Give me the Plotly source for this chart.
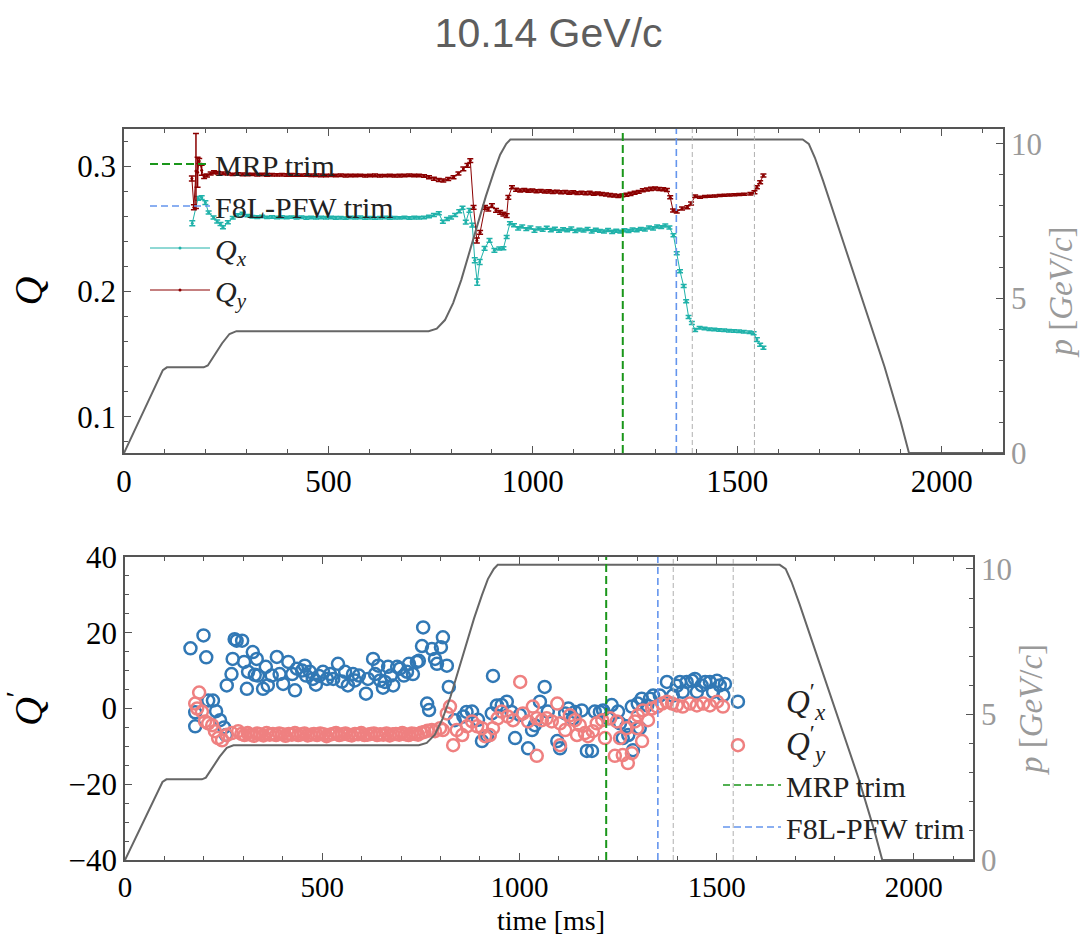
import plotly.graph_objects as go

TITLE = "10.14 GeV/c"
X_TITLE = "time [ms]"

# ---------------- momentum ramp (right axes) ----------------
mom_t = [0, 40, 80, 95, 105, 195, 205, 220, 240, 258, 275, 745, 765, 785, 805, 825, 845,
         865, 885, 905, 920, 935, 945, 1660, 1675, 1690, 1710, 1760, 1810, 1860, 1900, 1920, 2150]
mom_p = [0, 1.15, 2.3, 2.68, 2.77, 2.77, 2.83, 3.15, 3.55, 3.85, 3.94, 3.94, 4.02, 4.3, 4.85, 5.6, 6.5,
         7.4, 8.3, 9.1, 9.65, 10.0, 10.14, 10.14, 10.0, 9.55, 8.8, 6.8, 4.8, 2.8, 1.0, 0.0, 0.0]

# ---------------- trim / marker times ----------------
mrp_trim_t = 1220
f8l_trim_t = 1351
gray_marks_t = [1390, 1542]

# ---------------- tunes Q_x ----------------
qx_t = [167, 181, 190, 199, 207, 219, 228, 236, 242, 254,
        266, 278, 290, 302, 314, 326, 338, 350, 362, 374,
        386, 398, 410, 422, 434, 446, 458, 470, 482, 494,
        506, 518, 530, 542, 554, 566, 578, 590, 602, 614,
        626, 638, 650, 662, 674, 686, 698, 710, 722, 734,
        746, 758, 770, 780, 790, 800, 810, 820, 828, 836,
        845, 852, 858, 864, 870, 882, 894, 906, 918, 928,
        936, 944, 954, 964, 974, 984, 994, 1004, 1014, 1024,
        1034, 1044, 1054, 1064, 1074, 1084, 1094, 1104, 1114, 1124,
        1134, 1144, 1154, 1164, 1174, 1184, 1194, 1204, 1214, 1224,
        1234, 1244, 1254, 1264, 1274, 1284, 1294, 1304, 1314, 1324,
        1334, 1344, 1352, 1360, 1369, 1375, 1381, 1389, 1397, 1408,
        1420, 1432, 1444, 1456, 1468, 1480, 1492, 1504, 1516, 1530,
        1540, 1548, 1556, 1564]
qx_val = [.2546, .2745, .2752, .2712, .2632, .2592, .2560, .2540, .2514, .2555,
          .2590, .2612, .2625, .2608, .2598, .2595, .2600, .2594, .2597, .2593,
          .2596, .2592, .2595, .2591, .2594, .2590, .2593, .2589, .2592, .2590,
          .2593, .2589, .2591, .2588, .2592, .2590, .2593, .2589, .2591, .2588,
          .2590, .2593, .2589, .2591, .2590, .2592, .2589, .2591, .2590, .2592,
          .2600, .2612, .2626, .2558, .2580, .2592, .2612, .2642, .2670, .2556,
          .2650, .2531, .2250, .2076, .2236, .2346, .2410, .2330, .2345, .2346,
          .2436, .2546, .2530, .2506, .2520, .2500, .2512, .2488, .2505, .2494,
          .2510, .2491, .2502, .2486, .2498, .2490, .2503, .2485, .2495, .2488,
          .2500, .2482, .2494, .2486, .2480, .2492, .2478, .2486, .2480, .2490,
          .2484, .2496, .2490, .2502, .2496, .2512, .2505, .2520, .2515, .2528,
          .2512, .2450, .2307, .2163, .2044, .1924, .1797, .1750, .1693, .1712,
          .1705, .1700, .1698, .1694, .1692, .1688, .1686, .1684, .1680, .1676,
          .1668, .1616, .1576, .1552]
qx_err = [.0020, .0015, .0015, .0015, .0012, .0012, .0012, .0012, .0012, .0012,
          .0010, .0011, .0010, .0009, .0010, .0011, .0010, .0009, .0010, .0010,
          .0011, .0010, .0009, .0010, .0010, .0011, .0010, .0009, .0010, .0010,
          .0010, .0011, .0010, .0009, .0010, .0010, .0011, .0010, .0010, .0009,
          .0010, .0010, .0011, .0010, .0009, .0010, .0010, .0011, .0010, .0010,
          .0010, .0012, .0012, .0012, .0012, .0012, .0012, .0012, .0012, .0015,
          .0015, .0015, .0020, .0025, .0020, .0015, .0015, .0015, .0012, .0012,
          .0012, .0012, .0012, .0013, .0012, .0011, .0012, .0013, .0012, .0011,
          .0012, .0013, .0012, .0011, .0012, .0012, .0013, .0012, .0011, .0012,
          .0012, .0013, .0012, .0011, .0012, .0012, .0013, .0012, .0011, .0012,
          .0012, .0013, .0012, .0011, .0012, .0012, .0013, .0012, .0011, .0012,
          .0012, .0012, .0012, .0012, .0012, .0012, .0012, .0012, .0012, .0010,
          .0010, .0010, .0010, .0010, .0010, .0010, .0010, .0010, .0010, .0010,
          .0012, .0015, .0012, .0012]

# ---------------- tunes Q_y ----------------
qy_t = [166, 171, 176, 180, 184, 190, 196, 203, 212, 220,
        230, 242, 254, 266, 278, 290, 302, 314, 326, 338,
        350, 362, 374, 386, 398, 410, 422, 434, 446, 458,
        470, 482, 494, 506, 518, 530, 542, 554, 566, 578,
        590, 602, 614, 626, 638, 650, 662, 674, 686, 698,
        710, 722, 734, 746, 758, 770, 781, 793, 806, 818,
        830, 840, 847, 855, 863, 871, 883, 891, 900, 910,
        920, 928, 936, 940, 949, 959, 969, 979, 989, 999,
        1009, 1019, 1029, 1039, 1049, 1059, 1069, 1079, 1089, 1099,
        1109, 1119, 1129, 1139, 1149, 1159, 1169, 1179, 1189, 1199,
        1209, 1219, 1229, 1239, 1249, 1259, 1269, 1279, 1289, 1299,
        1309, 1319, 1328, 1336, 1343, 1352, 1365, 1378, 1387, 1397,
        1409, 1421, 1433, 1445, 1457, 1469, 1481, 1493, 1505, 1517,
        1532, 1542, 1548, 1556, 1564]
qy_val = [.2905, .2674, .2965, .2955, .3045, .2970, .2920, .2928, .2945, .2955,
          .2950, .2945, .2942, .2938, .2940, .2937, .2936, .2937, .2935, .2936,
          .2934, .2935, .2933, .2934, .2932, .2933, .2932, .2931, .2932, .2930,
          .2931, .2930, .2929, .2930, .2929, .2930, .2928, .2929, .2928, .2929,
          .2927, .2928, .2929, .2927, .2928, .2929, .2927, .2928, .2929, .2930,
          .2929, .2928, .2924, .2915, .2903, .2893, .2888, .2900, .2915, .2945,
          .2981, .3010, .3048, .2674, .2408, .2474, .2674, .2660, .2688, .2650,
          .2634, .2620, .2608, .2754, .2834, .2815, .2808, .2812, .2806, .2809,
          .2803, .2806, .2800, .2802, .2797, .2800, .2794, .2797, .2791, .2794,
          .2788, .2791, .2786, .2789, .2783, .2786, .2780, .2777, .2772, .2768,
          .2765, .2770, .2774, .2782, .2790, .2798, .2810, .2816, .2822, .2825,
          .2820, .2818, .2812, .2754, .2648, .2640, .2664, .2675, .2704, .2763,
          .2755, .2760, .2762, .2765, .2768, .2770, .2772, .2774, .2776, .2778,
          .2782, .2795, .2834, .2874, .2928]
qy_err = [.0020, .0020, .0300, .0120, .0020, .0040, .0015, .0012, .0012, .0012,
          .0010, .0011, .0010, .0009, .0010, .0011, .0010, .0009, .0010, .0010,
          .0011, .0010, .0009, .0010, .0010, .0011, .0010, .0009, .0010, .0010,
          .0010, .0011, .0010, .0009, .0010, .0010, .0011, .0010, .0010, .0009,
          .0010, .0010, .0011, .0010, .0009, .0010, .0010, .0011, .0010, .0010,
          .0010, .0010, .0010, .0012, .0012, .0012, .0012, .0012, .0012, .0012,
          .0015, .0015, .0015, .0015, .0020, .0015, .0015, .0015, .0015, .0015,
          .0015, .0015, .0015, .0015, .0012, .0012, .0012, .0012, .0012, .0012,
          .0012, .0011, .0012, .0013, .0012, .0011, .0012, .0012, .0013, .0012,
          .0011, .0012, .0012, .0013, .0012, .0011, .0012, .0012, .0013, .0012,
          .0012, .0011, .0012, .0013, .0012, .0011, .0012, .0012, .0013, .0012,
          .0012, .0012, .0012, .0012, .0012, .0012, .0012, .0012, .0012, .0010,
          .0008, .0008, .0008, .0008, .0008, .0008, .0008, .0008, .0008, .0008,
          .0010, .0012, .0012, .0012, .0012]

# ---------------- chromaticity Q'_x ----------------
cx_t = [166, 178, 178, 199, 206, 211, 223, 231, 241, 251,
        256, 258, 270, 273, 278, 283, 297, 302, 309, 312,
        324, 329, 334, 337, 350, 357, 362, 372, 385, 392,
        401, 414, 424, 431, 436, 449, 456, 459, 469, 476,
        484, 492, 502, 512, 520, 528, 540, 550, 558, 565,
        578, 583, 593, 611, 616, 629, 634, 642, 647, 654,
        659, 667, 674, 680, 690, 697, 707, 715, 720, 730,
        740, 745, 753, 756, 766, 771, 778, 786, 791, 801,
        806, 816, 821, 836, 858, 866, 880, 895, 905, 918,
        930, 933, 943, 955, 968, 980, 989, 1001, 1022, 1032,
        1039, 1052, 1064, 1072, 1096, 1103, 1116, 1124, 1136, 1141,
        1158, 1171, 1184, 1191, 1204, 1212, 1225, 1234, 1250, 1255,
        1262, 1272, 1276, 1285, 1288, 1300, 1305, 1310, 1324, 1331,
        1339, 1356, 1374, 1389, 1399, 1407, 1414, 1424, 1438, 1445,
        1450, 1462, 1471, 1483, 1491, 1501, 1508, 1517, 1521, 1554]
cx_val = [15.9, -1.0, -4.7, 19.3, 13.5, 2.1, 2.1, -0.7, -3.1, -5.0,
          -7.0, 6.1, 9.1, 13.1, 18.3, 17.9, 17.9, 12.3, 5.2, 9.7,
          14.9, 8.9, 13.1, 8.7, 5.2, 11.0, 6.1, 8.7, 13.6, 9.1,
          6.5, 12.3, 9.1, 4.8, 10.5, 10.0, 11.3, 8.7, 9.7, 7.8,
          6.3, 8.6, 9.7, 7.8, 9.1, 7.8, 11.8, 7.1, 9.7, 6.1,
          9.1, 7.4, 8.7, 3.9, 7.8, 13.1, 9.1, 11.3, 7.4, 5.5,
          7.0, 11.0, 8.7, 6.1, 11.0, 10.5, 8.7, 9.7, 11.8, 9.1,
          12.3, 12.6, 16.5, 21.4, 1.3, -0.4, 15.7, 13.1, 11.8, 16.2,
          18.8, 11.3, 5.7, -3.1, -2.1, -0.9, -0.8, -3.0, -8.6, -7.3,
          -1.3, 8.6, 0.8, 0.9, 1.8, -0.9, -7.8, -1.7, -10.5, -5.7,
          -4.4, 1.8, 5.7, -0.8, -8.6, -10.5, -1.3, 0.0, -2.6, -0.9,
          -0.5, -11.2, -11.2, -0.8, -0.9, -0.5, -2.6, 0.9, -0.8, -3.9,
          -7.8, -4.7, -7.0, 0.5, -11.0, 1.3, -5.2, 2.6, 0.8, 2.6,
          3.4, 3.4, 7.0, 3.4, 6.0, 7.0, 4.4, 7.0, 7.3, 7.8,
          4.4, 6.1, 7.0, 7.0, 4.4, 7.3, 6.1, 3.5, 6.5, 1.8]

# ---------------- chromaticity Q'_y ----------------
cy_t = [178, 183, 188, 195, 203, 211, 221, 228, 236, 246,
        258, 271, 287, 295, 303, 311, 319, 327, 335, 343,
        351, 359, 367, 375, 383, 391, 399, 407, 415, 423,
        431, 439, 447, 455, 463, 471, 479, 487, 495, 503,
        511, 519, 527, 535, 543, 551, 559, 567, 575, 583,
        591, 599, 607, 615, 623, 631, 639, 647, 655, 663,
        671, 679, 687, 695, 703, 711, 719, 727, 735, 743,
        751, 759, 767, 778, 786, 799, 806, 816, 824, 832,
        841, 855, 867, 880, 893, 905, 913, 925, 933, 945,
        955, 970, 984, 1002, 1009, 1022, 1034, 1044, 1044, 1057,
        1069, 1082, 1096, 1103, 1103, 1116, 1128, 1141, 1146, 1153,
        1166, 1174, 1186, 1196, 1210, 1217, 1230, 1242, 1247, 1255,
        1262, 1272, 1275, 1285, 1293, 1298, 1300, 1311, 1313, 1326,
        1336, 1349, 1362, 1374, 1387, 1399, 1414, 1432, 1450, 1466,
        1483, 1501, 1516, 1554]
cy_val = [1.3, 0.0, 4.2, -0.8, -3.4, -3.9, -4.4, -6.0, -7.8, -8.4,
          -7.0, -6.5, -6.0, -6.7, -7.0, -6.5, -6.9, -7.2, -6.6, -6.8,
          -7.1, -6.5, -6.9, -6.7, -7.0, -6.6, -6.8, -7.2, -6.7, -6.9,
          -6.5, -7.0, -6.8, -6.6, -7.1, -6.9, -6.7, -7.0, -6.6, -6.8,
          -7.3, -6.9, -6.7, -6.5, -7.0, -6.8, -6.6, -6.9, -7.1, -6.7,
          -6.8, -6.5, -7.0, -6.9, -6.7, -6.6, -7.0, -6.8, -6.9, -6.6,
          -7.1, -6.8, -6.7, -6.9, -6.5, -6.8, -7.0, -6.6, -6.7, -6.9,
          -6.4, -6.2, -5.9, -5.7, -6.0, -5.2, -5.7, -1.3, 0.5, -9.7,
          -5.7, -7.0, -4.7, -3.4, -4.7, -5.2, -7.3, -7.0, -5.2, -2.6,
          -0.8, -2.1, -3.1, 7.0, -1.3, -3.4, 0.5, -2.6, -12.5, -3.1,
          -2.6, -3.4, 1.3, -3.9, -9.7, -5.7, -1.8, -3.1, -7.0, -4.4,
          -6.5, -7.3, -6.0, -3.9, -3.1, -7.8, -2.6, -12.5, -3.4, -7.8,
          -12.3, -5.2, -14.4, -11.8, -3.4, -5.2, -1.8, -8.6, -0.5, -3.1,
          0.0, 0.5, 1.3, 1.8, 1.3, 0.8, 0.5, 1.3, 0.8, 1.3,
          0.8, 1.8, 0.5, -9.7]

assert len(qx_t) == len(qx_val) == len(qx_err)
assert len(qy_t) == len(qy_val) == len(qy_err)
assert len(cx_t) == len(cx_val)
assert len(cy_t) == len(cy_val)
assert len(mom_t) == len(mom_p)

# ---------------- styling ----------------
SERIF = "Liberation Serif"
SPINE = "#555555"
GRAYTXT = "#9a9a9a"
TEAL = "#20b2aa"
DARKRED = "#8b0000"
BLUE = "#3178b5"
PINK = "#ef8080"
GREEN = "#1a961a"
CBLUE = "#6495ed"
W, H = 1082, 937

fig = go.Figure()

# ---- top panel ----
fig.add_trace(go.Scatter(x=[None], y=[None], mode="lines", name="MRP trim",
                         line=dict(color=GREEN, width=2, dash="8px,4px"),
                         xaxis="x", yaxis="y", legend="legend", legendrank=1))
fig.add_trace(go.Scatter(x=[None], y=[None], mode="lines", name="F8L-PFW trim",
                         line=dict(color=CBLUE, width=1.6, dash="7px,4px"),
                         xaxis="x", yaxis="y", legend="legend", legendrank=2))
fig.add_trace(go.Scatter(x=qx_t, y=qx_val, mode="lines+markers", name="<i>Q<sub>x</sub></i>",
                         line=dict(color=TEAL, width=1), marker=dict(color=TEAL, size=3),
                         error_y=dict(type="data", array=qx_err, color=TEAL, thickness=1.5, width=3),
                         xaxis="x", yaxis="y", legend="legend", legendrank=3))
fig.add_trace(go.Scatter(x=qy_t, y=qy_val, mode="lines+markers", name="<i>Q<sub>y</sub></i>",
                         line=dict(color=DARKRED, width=1), marker=dict(color=DARKRED, size=3),
                         error_y=dict(type="data", array=qy_err, color=DARKRED, thickness=1.5, width=3),
                         xaxis="x", yaxis="y", legend="legend", legendrank=4))
fig.add_trace(go.Scatter(x=mom_t, y=mom_p, mode="lines", line=dict(color="#666666", width=2),
                         showlegend=False, xaxis="x", yaxis="y2"))

# ---- bottom panel ----
fig.add_trace(go.Scatter(x=cx_t, y=cx_val, mode="markers", showlegend=False,
                         marker=dict(symbol="circle-open", size=12, color=BLUE, line=dict(width=2.5, color=BLUE)),
                         xaxis="x2", yaxis="y3"))
fig.add_trace(go.Scatter(x=cy_t, y=cy_val, mode="markers", showlegend=False,
                         marker=dict(symbol="circle-open", size=12, color=PINK, line=dict(width=2.5, color=PINK)),
                         xaxis="x2", yaxis="y3"))
fig.add_trace(go.Scatter(x=mom_t, y=mom_p, mode="lines", line=dict(color="#666666", width=2),
                         showlegend=False, xaxis="x2", yaxis="y4"))
# legend-only entries for bottom panel
fig.add_trace(go.Scatter(x=[None], y=[None], mode="markers",
                         name="<span style='font-size:33px'><i>Q</i><sup>′</sup><sub><i>x</i></sub></span>",
                         marker=dict(color="rgba(0,0,0,0)", size=1),
                         xaxis="x2", yaxis="y3", legend="legend2", legendrank=1))
fig.add_trace(go.Scatter(x=[None], y=[None], mode="markers",
                         name="<span style='font-size:33px'><i>Q</i><sup>′</sup><sub><i>y</i></sub></span>",
                         marker=dict(color="rgba(0,0,0,0)", size=1),
                         xaxis="x2", yaxis="y3", legend="legend2", legendrank=2))
fig.add_trace(go.Scatter(x=[None], y=[None], mode="lines", name="MRP trim",
                         line=dict(color=GREEN, width=1.6, dash="7px,4px"),
                         xaxis="x2", yaxis="y3", legend="legend2", legendrank=3))
fig.add_trace(go.Scatter(x=[None], y=[None], mode="lines", name="F8L-PFW trim",
                         line=dict(color=CBLUE, width=1.4, dash="7px,4px"),
                         xaxis="x2", yaxis="y3", legend="legend2", legendrank=4))

# vertical lines
shapes = []
for xr, yr in (("x", "y domain"), ("x2", "y3 domain")):
    shapes.append(dict(type="line", xref=xr, yref=yr, x0=mrp_trim_t, x1=mrp_trim_t, y0=0, y1=1,
                       line=dict(color=GREEN, width=2, dash="8px,4px")))
    shapes.append(dict(type="line", xref=xr, yref=yr, x0=f8l_trim_t, x1=f8l_trim_t, y0=0, y1=1,
                       line=dict(color=CBLUE, width=1.6, dash="7px,4px")))
    for gt in gray_marks_t:
        shapes.append(dict(type="line", xref=xr, yref=yr, x0=gt, x1=gt, y0=0, y1=1,
                           line=dict(color="#b0b0b0", width=1, dash="5px,3px")))


def base_axis(**kw):
    d = dict(showline=True, linecolor=SPINE, linewidth=1.5, ticks="inside", ticklen=7,
             tickwidth=1.2, tickcolor=SPINE, showgrid=False, zeroline=False, automargin=False,
             tickfont=dict(family=SERIF, size=31, color="black"))
    d.update(kw)
    return d


top_dom = [1 - 453 / H, 1 - 129 / H]
bot_dom = [1 - 860 / H, 1 - 557 / H]

fig.update_layout(
    width=W, height=H,
    margin=dict(l=0, r=0, t=0, b=0, pad=0, autoexpand=False),
    paper_bgcolor="white", plot_bgcolor="white",
    title=dict(text=TITLE, x=0.507, xanchor="center", y=1 - 33 / H, yanchor="middle",
               yref="container", font=dict(family="Liberation Sans", size=41, color="#5e5e5e")),
    shapes=shapes,
    annotations=[dict(text=X_TITLE, xref="paper", yref="paper", x=551 / W, y=0.0,
                      xanchor="center", yanchor="bottom", showarrow=False, borderpad=0,
                      font=dict(family=SERIF, size=28, color="black"))],
    xaxis=base_axis(domain=[124 / W, 1003 / W], anchor="y", range=[0, 2150], dtick=500, tick0=0,
                    mirror="ticks",
                    minor=dict(ticks="inside", ticklen=4, tickcolor=SPINE, dtick=100)),
    yaxis=base_axis(domain=top_dom, anchor="x", range=[0.071, 0.330], dtick=0.1, tick0=0,
                    minor=dict(ticks="inside", ticklen=4, tickcolor=SPINE, dtick=0.02),
                    title=dict(text="<i>Q</i>", font=dict(family=SERIF, size=40, color="black"), standoff=22)),
    yaxis2=base_axis(overlaying="y", side="right", anchor="x", range=[0, 10.48], dtick=5, tick0=0,
                     minor=dict(ticks="inside", ticklen=4, tickcolor=SPINE, dtick=1),
                     tickfont=dict(family=SERIF, size=31, color=GRAYTXT),
                     title=dict(text="<i>p</i> [<i>GeV</i>/<i>c</i>]", font=dict(family=SERIF, size=33, color=GRAYTXT),
                                standoff=8)),
    xaxis2=base_axis(domain=[125 / W, 973 / W], anchor="y3", range=[0, 2150], dtick=500, tick0=0,
                     mirror="ticks", tickfont=dict(family=SERIF, size=29, color="black"),
                     minor=dict(ticks="inside", ticklen=4, tickcolor=SPINE, dtick=100)),
    yaxis3=base_axis(domain=bot_dom, anchor="x2", range=[-40, 40], dtick=20, tick0=0,
                     minor=dict(ticks="inside", ticklen=4, tickcolor=SPINE, dtick=5),
                     title=dict(text="<i>Q</i><sup>′</sup>", font=dict(family=SERIF, size=40, color="black"),
                                standoff=30)),
    yaxis4=base_axis(overlaying="y3", side="right", anchor="x2", range=[0, 10.41], dtick=5, tick0=0,
                     minor=dict(ticks="inside", ticklen=4, tickcolor=SPINE, dtick=1),
                     tickfont=dict(family=SERIF, size=31, color=GRAYTXT),
                     title=dict(text="<i>p</i> [<i>GeV</i>/<i>c</i>]", font=dict(family=SERIF, size=33, color=GRAYTXT),
                                standoff=8)),
    legend=dict(x=145 / W, xanchor="left", y=1 - 138 / H, yanchor="top", bgcolor="rgba(0,0,0,0)",
                font=dict(family=SERIF, size=30, color="#222222"), itemwidth=60, traceorder="normal"),
    legend2=dict(x=718 / W, xanchor="left", y=1 - 675 / H, yanchor="top", bgcolor="rgba(0,0,0,0)",
                 font=dict(family=SERIF, size=30, color="#222222"), itemwidth=58, traceorder="normal"),
)

fig.write_html("out.html")
